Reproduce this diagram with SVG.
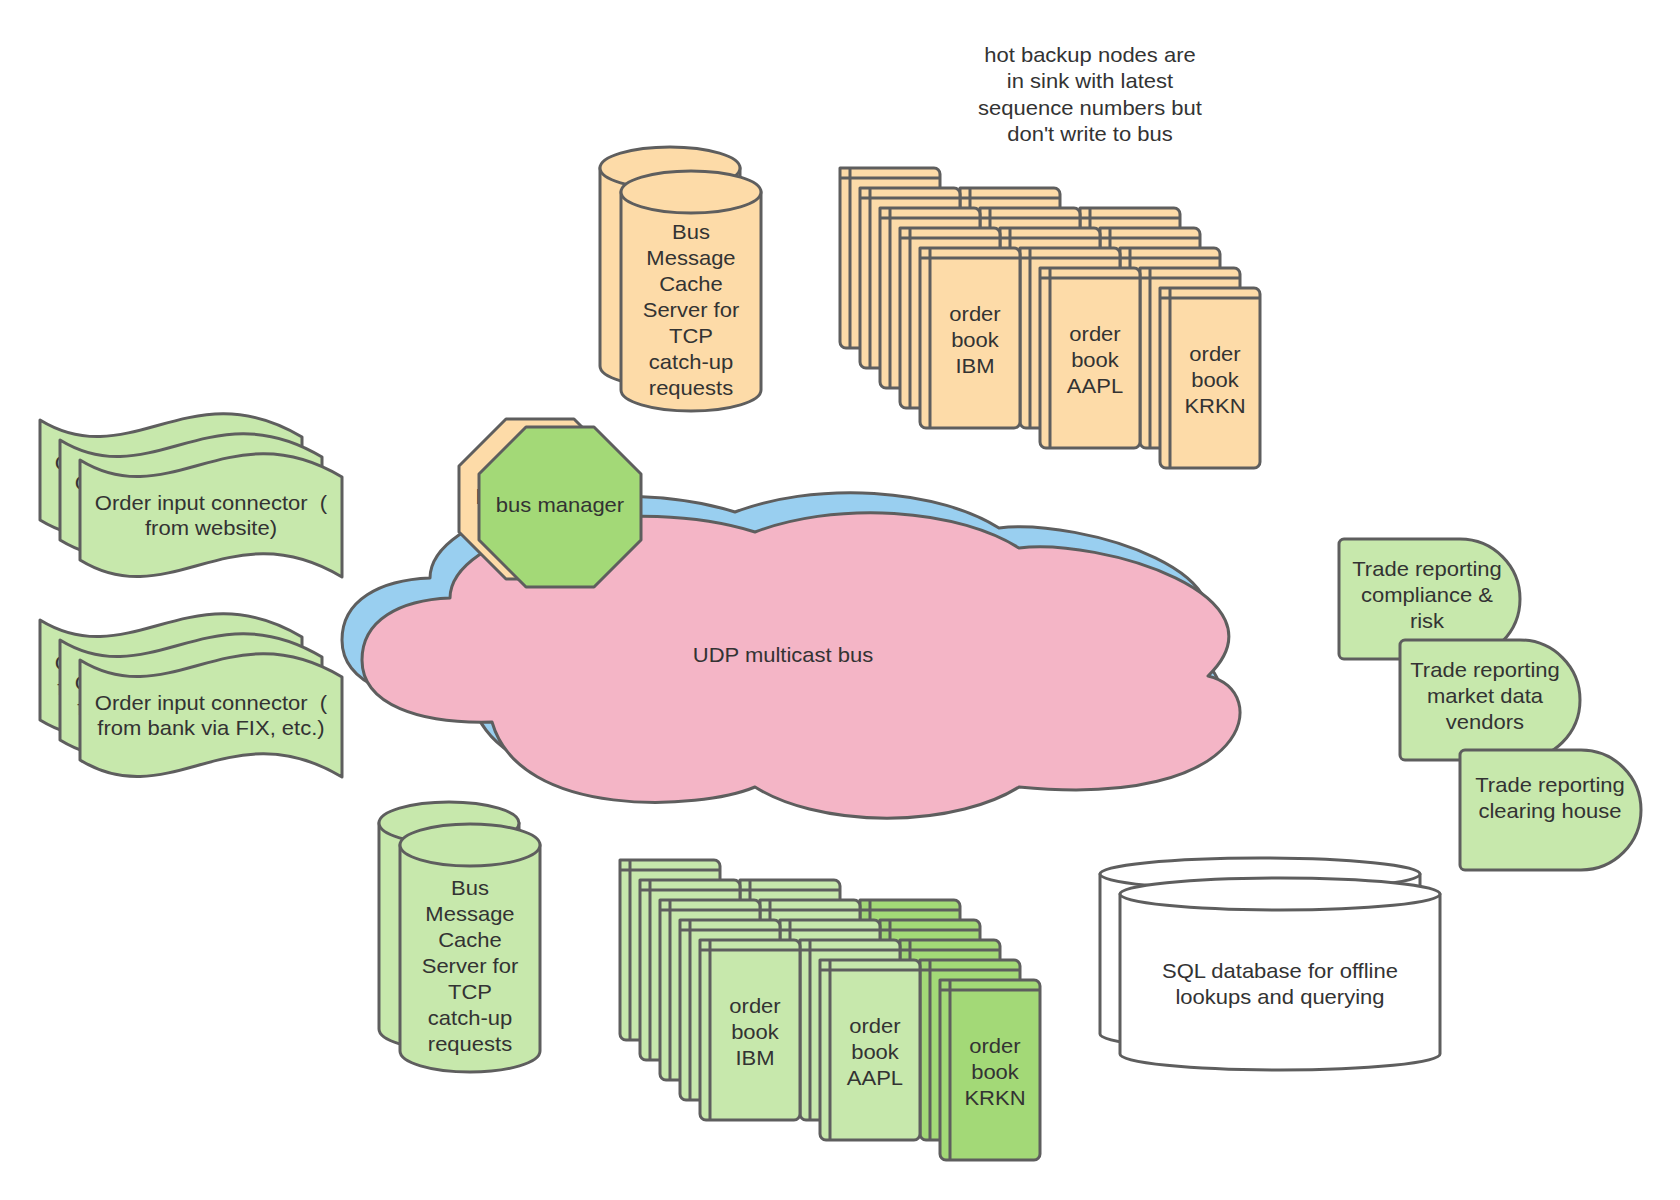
<svg xmlns="http://www.w3.org/2000/svg" xmlns:xlink="http://www.w3.org/1999/xlink" width="1680" height="1200" viewBox="0 0 1680 1200">
<style>
.s{stroke:#5e5e5e;stroke-width:3;stroke-linejoin:round}
.or{fill:#fddba8}
.lg{fill:#c7e8ac}
.dg{fill:#a3d977}
.pk{fill:#f4b5c6}
.bl{fill:#99cff0}
.wh{fill:#ffffff}
.t{font-family:"Liberation Sans",Arial,sans-serif;font-size:20px;fill:#333333;text-anchor:middle;transform-box:fill-box;transform-origin:center;transform:scaleX(1.1)}
</style>
<defs>
<g id="bk">
<path d="M0,0 H94 A6,6 0 0 1 100,6 V174 A6,6 0 0 1 94,180 H6 A6,6 0 0 1 0,174 Z"/>
<path d="M10,0 V180 M0,10 H100" fill="none"/>
</g>
<path id="wave" d="M0,0 C90,55 150,-50 262,17 V117 C150,50 90,155 0,100 Z"/>
<path id="cloud" d="M492,722 C420,724 362,705 362,660 C362,620 400,600 450,598 A192,82 0 0 1 755,532 A186,89 0 0 1 1019,548 C1100,538 1292,595 1208,676 C1272,690 1255,810 1019,787 A165,78 0 0 1 755,787 C700,810 520,820 492,722 Z"/>
</defs>
<rect width="1680" height="1200" fill="#ffffff"/>

<g id="connectors"></g>

<g id="cache-orange">
<path class="s or" d="M600,168 V366 A70,21 0 0 0 740,366 V168 Z"/>
<ellipse class="s or" cx="670" cy="168" rx="70" ry="21"/>
<path class="s or" d="M621,192 V390 A70,21 0 0 0 761,390 V192 Z"/>
<ellipse class="s or" cx="691" cy="192" rx="70" ry="21"/>
<text class="t"><tspan x="691" y="239">Bus</tspan><tspan x="691" y="265">Message</tspan><tspan x="691" y="291">Cache</tspan><tspan x="691" y="317">Server for</tspan><tspan x="691" y="343">TCP</tspan><tspan x="691" y="369">catch-up</tspan><tspan x="691" y="395">requests</tspan></text>
</g>

<g id="books-orange-krkn" class="s or">
<use xlink:href="#bk" x="1080" y="208"/><use xlink:href="#bk" x="1100" y="228"/><use xlink:href="#bk" x="1120" y="248"/><use xlink:href="#bk" x="1140" y="268"/><use xlink:href="#bk" x="1160" y="288"/>
<text class="t" stroke="none"><tspan x="1215" y="361">order</tspan><tspan x="1215" y="387">book</tspan><tspan x="1215" y="413">KRKN</tspan></text>
</g>
<g id="books-orange-aapl" class="s or">
<use xlink:href="#bk" x="960" y="188"/><use xlink:href="#bk" x="980" y="208"/><use xlink:href="#bk" x="1000" y="228"/><use xlink:href="#bk" x="1020" y="248"/><use xlink:href="#bk" x="1040" y="268"/>
<text class="t" stroke="none"><tspan x="1095" y="341">order</tspan><tspan x="1095" y="367">book</tspan><tspan x="1095" y="393">AAPL</tspan></text>
</g>
<g id="books-orange-ibm" class="s or">
<use xlink:href="#bk" x="840" y="168"/><use xlink:href="#bk" x="860" y="188"/><use xlink:href="#bk" x="880" y="208"/><use xlink:href="#bk" x="900" y="228"/><use xlink:href="#bk" x="920" y="248"/>
<text class="t" stroke="none"><tspan x="975" y="321">order</tspan><tspan x="975" y="347">book</tspan><tspan x="975" y="373">IBM</tspan></text>
</g>

<g id="note-hot-backup">
<text class="t"><tspan x="1090" y="62">hot backup nodes are</tspan><tspan x="1090" y="88">in sink with latest</tspan><tspan x="1090" y="115">sequence numbers but</tspan><tspan x="1090" y="141">don't write to bus</tspan></text>
</g>

<g id="udp-bus">
<use xlink:href="#cloud" class="s bl" transform="translate(-20,-20)"/>
<use xlink:href="#cloud" class="s pk"/>
<text class="t" x="783" y="662">UDP multicast bus</text>
</g>

<g id="bus-manager">
<polygon class="s or" points="506,419 574,419 621,466 621,532 574,579 506,579 459,532 459,466"/>
<text class="t" x="540" y="504">bus manager</text>
<polygon class="s dg" points="526,427 594,427 641,474 641,540 594,587 526,587 479,540 479,474"/>
<text class="t" x="560" y="512">bus manager</text>
</g>

<g id="input-website">
<use xlink:href="#wave" class="s lg" x="40" y="420"/>
<text class="t"><tspan x="171" y="470">Order input connector &#160;(</tspan><tspan x="171" y="495">from website)</tspan></text>
<use xlink:href="#wave" class="s lg" x="60" y="440"/>
<text class="t"><tspan x="191" y="490">Order input connector &#160;(</tspan><tspan x="191" y="515">from website)</tspan></text>
<use xlink:href="#wave" class="s lg" x="80" y="460"/>
<text class="t"><tspan x="211" y="510">Order input connector &#160;(</tspan><tspan x="211" y="535">from website)</tspan></text>
</g>

<g id="input-bank">
<use xlink:href="#wave" class="s lg" x="40" y="620"/>
<text class="t"><tspan x="171" y="670">Order input connector &#160;(</tspan><tspan x="171" y="695">from bank via FIX, etc.)</tspan></text>
<use xlink:href="#wave" class="s lg" x="60" y="640"/>
<text class="t"><tspan x="191" y="690">Order input connector &#160;(</tspan><tspan x="191" y="715">from bank via FIX, etc.)</tspan></text>
<use xlink:href="#wave" class="s lg" x="80" y="660"/>
<text class="t"><tspan x="211" y="710">Order input connector &#160;(</tspan><tspan x="211" y="735">from bank via FIX, etc.)</tspan></text>
</g>

<g id="trade-compliance">
<path class="s lg" d="M1344,539 H1460 A60,60 0 0 1 1460,659 H1344 A5,5 0 0 1 1339,654 V544 A5,5 0 0 1 1344,539 Z"/>
<text class="t"><tspan x="1427" y="576">Trade reporting</tspan><tspan x="1427" y="602">compliance &amp;</tspan><tspan x="1427" y="628">risk</tspan></text>
</g>
<g id="trade-market-data">
<path class="s lg" d="M1405,640 H1520 A60,60 0 0 1 1520,760 H1405 A5,5 0 0 1 1400,755 V645 A5,5 0 0 1 1405,640 Z"/>
<text class="t"><tspan x="1485" y="677">Trade reporting</tspan><tspan x="1485" y="703">market data</tspan><tspan x="1485" y="729">vendors</tspan></text>
</g>
<g id="trade-clearing">
<path class="s lg" d="M1465,750 H1581 A60,60 0 0 1 1581,870 H1465 A5,5 0 0 1 1460,865 V755 A5,5 0 0 1 1465,750 Z"/>
<text class="t"><tspan x="1550" y="792">Trade reporting</tspan><tspan x="1550" y="818">clearing house</tspan></text>
</g>

<g id="cache-green">
<path class="s lg" d="M379,823 V1029 A70,21 0 0 0 519,1029 V823 Z"/>
<ellipse class="s lg" cx="449" cy="823" rx="70" ry="21"/>
<path class="s lg" d="M400,845 V1051 A70,21 0 0 0 540,1051 V845 Z"/>
<ellipse class="s lg" cx="470" cy="845" rx="70" ry="21"/>
<text class="t"><tspan x="470" y="895">Bus</tspan><tspan x="470" y="921">Message</tspan><tspan x="470" y="947">Cache</tspan><tspan x="470" y="973">Server for</tspan><tspan x="470" y="999">TCP</tspan><tspan x="470" y="1025">catch-up</tspan><tspan x="470" y="1051">requests</tspan></text>
</g>

<g id="books-green-krkn" class="s dg">
<use xlink:href="#bk" x="860" y="900"/><use xlink:href="#bk" x="880" y="920"/><use xlink:href="#bk" x="900" y="940"/><use xlink:href="#bk" x="920" y="960"/><use xlink:href="#bk" x="940" y="980"/>
<text class="t" stroke="none"><tspan x="995" y="1053">order</tspan><tspan x="995" y="1079">book</tspan><tspan x="995" y="1105">KRKN</tspan></text>
</g>
<g id="books-green-aapl" class="s lg">
<use xlink:href="#bk" x="740" y="880"/><use xlink:href="#bk" x="760" y="900"/><use xlink:href="#bk" x="780" y="920"/><use xlink:href="#bk" x="800" y="940"/><use xlink:href="#bk" x="820" y="960"/>
<text class="t" stroke="none"><tspan x="875" y="1033">order</tspan><tspan x="875" y="1059">book</tspan><tspan x="875" y="1085">AAPL</tspan></text>
</g>
<g id="books-green-ibm" class="s lg">
<use xlink:href="#bk" x="620" y="860"/><use xlink:href="#bk" x="640" y="880"/><use xlink:href="#bk" x="660" y="900"/><use xlink:href="#bk" x="680" y="920"/><use xlink:href="#bk" x="700" y="940"/>
<text class="t" stroke="none"><tspan x="755" y="1013">order</tspan><tspan x="755" y="1039">book</tspan><tspan x="755" y="1065">IBM</tspan></text>
</g>

<g id="sql-db">
<path class="s wh" d="M1100,874 V1034 A160,16 0 0 0 1420,1034 V874 Z"/>
<ellipse class="s wh" cx="1260" cy="874" rx="160" ry="16"/>
<path class="s wh" d="M1120,894 V1054 A160,16 0 0 0 1440,1054 V894 Z"/>
<ellipse class="s wh" cx="1280" cy="894" rx="160" ry="16"/>
<text class="t"><tspan x="1280" y="978">SQL database for offline</tspan><tspan x="1280" y="1004">lookups and querying</tspan></text>
</g>
</svg>
